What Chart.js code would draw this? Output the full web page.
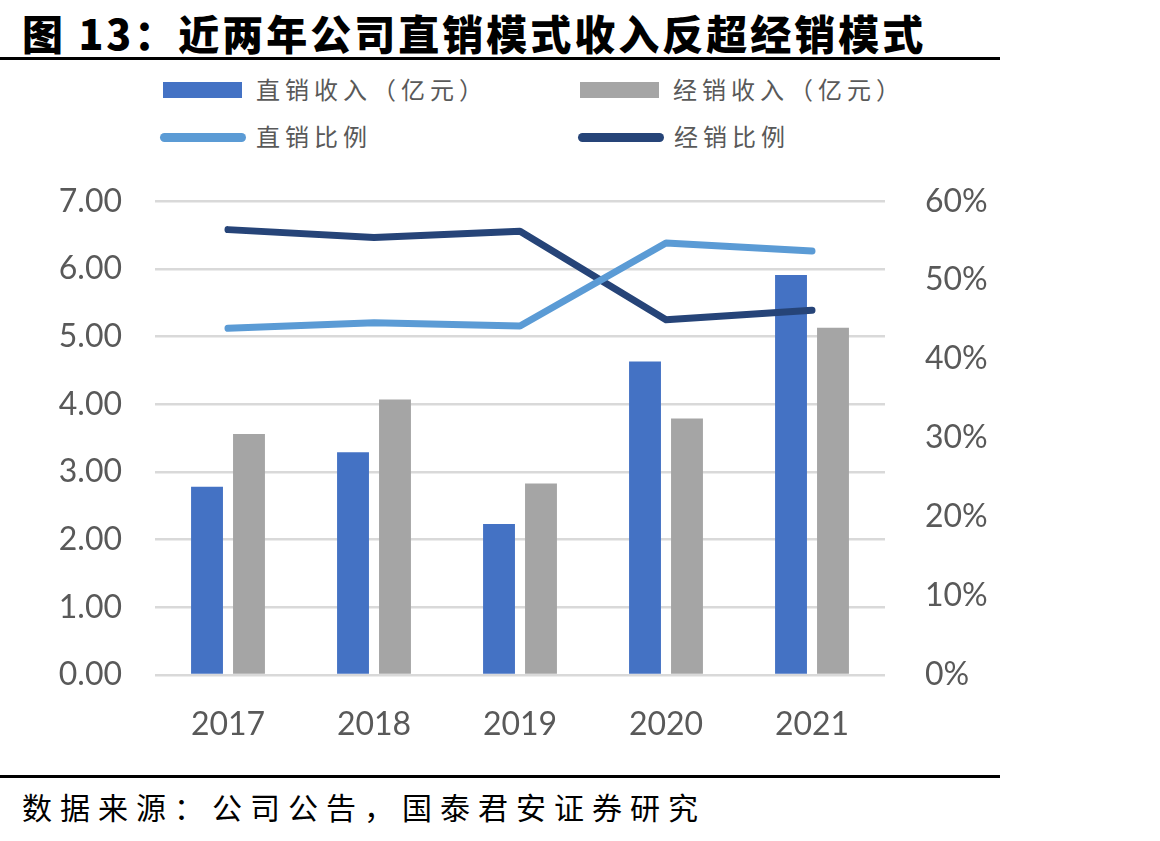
<!DOCTYPE html>
<html>
<head>
<meta charset="utf-8">
<script src="https://cdn.jsdelivr.net/npm/chart.js@4.4.1/dist/chart.umd.min.js"></script>
<style>
  html, body { margin: 0; padding: 0; background: #fff; }
  body { width: 1160px; height: 841px; position: relative; overflow: hidden; font-family: "Noto Sans CJK SC", sans-serif; }
  #title { position: absolute; left: 22px; top: 2px; font-size: 41px; font-weight: 900; color: #000; letter-spacing: 3px; white-space: nowrap; }
  #rule1 { position: absolute; left: 0; top: 57px; width: 1000px; height: 3px; background: #000; }
  #rule2 { position: absolute; left: 0; top: 775px; width: 1000px; height: 3px; background: #000; }
  #source { position: absolute; left: 22px; top: 784px; font-size: 30px; color: #000; letter-spacing: 8px; white-space: nowrap; }
  #legend { position: absolute; left: 0; top: 0; }
  .lg { position: absolute; font-size: 24px; color: #595959; letter-spacing: 5px; white-space: nowrap; line-height: 30px; }
  .sw { position: absolute; }
  #wrap { position: absolute; left: 0; top: 142px; width: 1000px; height: 628px; }
</style>
</head>
<body>
<div id="title">图 13：近两年公司直销模式收入反超经销模式</div>
<div id="rule1"></div>
<div id="legend"></div>
<div id="wrap"><canvas id="c" width="1000" height="628"></canvas></div>
<div id="rule2"></div>
<div id="source">数据来源：公司公告，国泰君安证券研究</div>
<script>
const categories = ["2017", "2018", "2019", "2020", "2021"];
const directRevenue = [2.78, 3.29, 2.23, 4.63, 5.91];
const dealerRevenue = [3.56, 4.07, 2.83, 3.79, 5.13];
const directShare = [43.9, 44.6, 44.2, 54.7, 53.7];
const dealerShare = [56.4, 55.4, 56.2, 45.0, 46.2];
const seriesNames = ["直销收入（亿元）", "经销收入（亿元）", "直销比例", "经销比例"];
const leftTicks = [0, 1, 2, 3, 4, 5, 6, 7];
const rightTicks = [0, 10, 20, 30, 40, 50, 60];

const C_DIRECT = "#4472C4", C_DEALER = "#A5A5A5", C_DSHARE = "#5B9BD5", C_DLSHARE = "#264478";
const tickFont = { family: "Lato, 'Open Sans', sans-serif", size: 32 };

const ctx = document.getElementById("c").getContext("2d");
const chart = new Chart(ctx, {
  data: {
    labels: categories,
    datasets: [
      { type: "line", label: seriesNames[2], data: directShare, yAxisID: "y1", borderColor: C_DSHARE, backgroundColor: C_DSHARE, borderWidth: 7, pointRadius: 0, tension: 0, borderCapStyle: "round", borderJoinStyle: "round", order: 0 },
      { type: "line", label: seriesNames[3], data: dealerShare, yAxisID: "y1", borderColor: C_DLSHARE, backgroundColor: C_DLSHARE, borderWidth: 7, pointRadius: 0, tension: 0, borderCapStyle: "round", borderJoinStyle: "round", order: 0 },
      { type: "bar", label: seriesNames[0], data: directRevenue, yAxisID: "y", backgroundColor: C_DIRECT, barPercentage: 0.76, categoryPercentage: 0.575, order: 1 },
      { type: "bar", label: seriesNames[1], data: dealerRevenue, yAxisID: "y", backgroundColor: C_DEALER, barPercentage: 0.76, categoryPercentage: 0.575, order: 1 }
    ]
  },
  options: {
    responsive: false,
    animation: false,
    layout: { padding: { top: 30, left: 0, right: 0, bottom: 0 } },
    plugins: { legend: { display: false }, tooltip: { enabled: false } },
    scales: {
      x: {
        grid: { display: false },
        border: { display: false },
        ticks: { color: "#595959", font: tickFont, padding: 22 },
        afterFit: (s) => { s.height = 95; }
      },
      y: {
        position: "left",
        min: 0, max: 7,
        afterBuildTicks: (s) => { s.ticks = leftTicks.map(v => ({ value: v })); },
        grid: { color: "#D9D9D9", lineWidth: 2.5, drawTicks: false },
        border: { display: false },
        ticks: { color: "#595959", font: tickFont, padding: 33, callback: (v) => Number(v).toFixed(2) },
        afterFit: (s) => { s.width = 155; }
      },
      y1: {
        position: "right",
        min: 0, max: 60,
        afterBuildTicks: (s) => { s.ticks = rightTicks.map(v => ({ value: v })); },
        grid: { display: false, drawTicks: false },
        border: { display: false },
        ticks: { color: "#595959", font: tickFont, padding: 40, callback: (v) => v + "%" },
        afterFit: (s) => { s.width = 115; }
      }
    }
  }
});

// HTML legend built from the chart's datasets
const legend = document.getElementById("legend");
const legendLayout = [
  { ds: 2, x: 163, y: 90, kind: "box" },
  { ds: 3, x: 580, y: 90, kind: "box" },
  { ds: 0, x: 160, y: 137, kind: "line" },
  { ds: 1, x: 578, y: 137, kind: "line" }
];
legendLayout.forEach(it => {
  const d = chart.data.datasets[it.ds];
  const sw = document.createElement("div");
  sw.className = "sw";
  if (it.kind === "box") {
    Object.assign(sw.style, { left: it.x + "px", top: (it.y - 8) + "px", width: "79px", height: "16px", background: d.backgroundColor });
  } else {
    Object.assign(sw.style, { left: it.x + "px", top: (it.y - 4.5) + "px", width: "86px", height: "9px", borderRadius: "5px", background: d.borderColor });
  }
  legend.appendChild(sw);
  const t = document.createElement("div");
  t.className = "lg";
  t.textContent = d.label;
  Object.assign(t.style, { left: (it.x + (it.kind === "box" ? 93 : 96)) + "px", top: (it.y - 16) + "px" });
  legend.appendChild(t);
});
</script>
</body>
</html>
